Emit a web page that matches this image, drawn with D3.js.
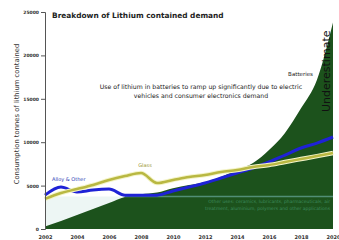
<!DOCTYPE html>
<html>
<head>
<meta charset="utf-8">
<script src="https://cdn.jsdelivr.net/npm/d3@7"></script>
<style>
body { margin: 0; background: #fff; }
text { font-family: "DejaVu Sans", sans-serif; }
</style>
</head>
<body>
<div class="container"></div>
<script>
const width = 339, height = 240;

const years = [2002, 2003, 2004, 2005, 2006, 2007, 2008, 2009, 2010, 2011,
	2012, 2013, 2014, 2015, 2016, 2017, 2018, 2019, 2020];
const batteries = [300, 920, 1600, 2300, 3000, 3700, 4000, 4200, 4700, 5070,
	5400, 6000, 6800, 7600, 9100, 11060, 13900, 17200, 23800];
const alloyOther = [3900, 4840, 4260, 4500, 4600, 3900, 3900, 3900, 4380, 4840,
	5300, 5870, 6450, 7030, 7720, 8520, 9330, 9900, 10600];
const glass = [3460, 4150, 4600, 5070, 5650, 6100, 6450, 5300, 5650, 6000,
	6220, 6570, 6800, 7140, 7370, 7720, 8060, 8400, 8750];
const otherBand = 3750;
const xTicks = [2002, 2004, 2006, 2008, 2010, 2012, 2014, 2016, 2018, 2020];
const yTicks = [0, 5000, 10000, 15000, 20000, 25000];

const sx = d3.scaleLinear().domain([2002, 2020]).range([45, 333]);
const sy = d3.scaleLinear().domain([0, 25000]).range([229, 12]);

const svg = d3.select('.container').append('svg')
	.attr('width', width)
	.attr('height', height)
	.attr('viewBox', [0, 0, width, height]);

const pts = vals => years.map((y, i) => [y, vals[i]]);

// pale band under the other-uses level
svg.append('path')
	.datum(years)
	.attr('fill', '#edf6f4')
	.attr('d', d3.area().x(d => sx(d)).y0(sy(0)).y1(sy(otherBand)));

// batteries area
svg.append('path')
	.datum(pts(batteries))
	.attr('fill', '#1c521c')
	.attr('d', d3.area().curve(d3.curveMonotoneX)
		.x(d => sx(d[0])).y0(sy(0)).y1(d => sy(d[1])));

// faint band inside the green
svg.append('line')
	.attr('x1', sx(2007)).attr('x2', sx(2020))
	.attr('y1', sy(otherBand)).attr('y2', sy(otherBand))
	.attr('stroke', '#5f9e8c').attr('stroke-width', 1.5).attr('opacity', 0.8);

const line = d3.line().curve(d3.curveMonotoneX)
	.x(d => sx(d[0])).y(d => sy(d[1]));

svg.append('path')
	.datum(pts(alloyOther))
	.attr('fill', 'none')
	.attr('stroke', '#1f22d6')
	.attr('stroke-width', 3)
	.attr('d', line);

svg.append('path')
	.datum(pts(glass))
	.attr('fill', 'none')
	.attr('stroke', '#f4f4c8')
	.attr('stroke-width', 4.5)
	.attr('d', line);
svg.append('path')
	.datum(pts(glass))
	.attr('fill', 'none')
	.attr('stroke', '#b9b842')
	.attr('stroke-width', 2.5)
	.attr('d', line);

// axes
const yAxis = svg.append('g')
	.attr('transform', 'translate(45,0)')
	.call(d3.axisLeft(sy).tickValues(yTicks).tickFormat(d3.format('d')).tickSize(4).tickPadding(2));
yAxis.selectAll('text').attr('font-size', 4.5).attr('font-weight', 'bold').attr('fill', '#333');
yAxis.selectAll('line').attr('stroke', '#555');
yAxis.select('.domain').attr('stroke', '#555');

const xAxis = svg.append('g')
	.attr('transform', 'translate(0,229)')
	.call(d3.axisBottom(sx).tickValues(xTicks).tickFormat(d3.format('d')).tickSize(0).tickPadding(6));
xAxis.selectAll('text').attr('font-size', 5).attr('font-weight', 'bold').attr('fill', '#333');
xAxis.select('.domain').remove();

// labels
svg.append('text')
	.attr('x', 52).attr('y', 18)
	.attr('font-size', 7.4).attr('font-weight', 'bold').attr('fill', '#222')
	.text('Breakdown of Lithium contained demand');

svg.append('text')
	.attr('transform', 'translate(19,114) rotate(-90)')
	.attr('text-anchor', 'middle')
	.attr('font-size', 6.8).attr('fill', '#333')
	.text('Consumption tonnes of lithium contained');

svg.append('text')
	.attr('x', 313).attr('y', 76)
	.attr('text-anchor', 'end')
	.attr('font-size', 5.5).attr('fill', '#222')
	.text('Batteries');
svg.append('text')
	.attr('x', 201).attr('y', 89)
	.attr('text-anchor', 'middle')
	.attr('font-size', 6.2).attr('fill', '#222')
	.text('Use of lithium in batteries to ramp up significantly due to electric');
svg.append('text')
	.attr('x', 201).attr('y', 98)
	.attr('text-anchor', 'middle')
	.attr('font-size', 6.2).attr('fill', '#222')
	.text('vehicles and consumer electronics demand');

svg.append('text')
	.attr('transform', 'translate(330,112) rotate(-90)')
	.attr('font-size', 11).attr('fill', '#111')
	.text('Underestimate');

svg.append('text')
	.attr('x', 52).attr('y', 181)
	.attr('font-size', 5).attr('fill', '#2c3bb4')
	.text('Alloy & Other');
svg.append('text')
	.attr('x', 145).attr('y', 167)
	.attr('text-anchor', 'middle')
	.attr('font-size', 5).attr('fill', '#9a9630')
	.text('Glass');

svg.append('text')
	.attr('x', 330).attr('y', 203)
	.attr('text-anchor', 'end')
	.attr('font-size', 4.5).attr('fill', '#3d8a5c')
	.text('Other uses: ceramics, lubricants, pharmaceuticals, air');
svg.append('text')
	.attr('x', 330).attr('y', 210)
	.attr('text-anchor', 'end')
	.attr('font-size', 4.5).attr('fill', '#3d8a5c')
	.text('treatment, aluminium, polymers and other applications');
</script>
</body>
</html>
